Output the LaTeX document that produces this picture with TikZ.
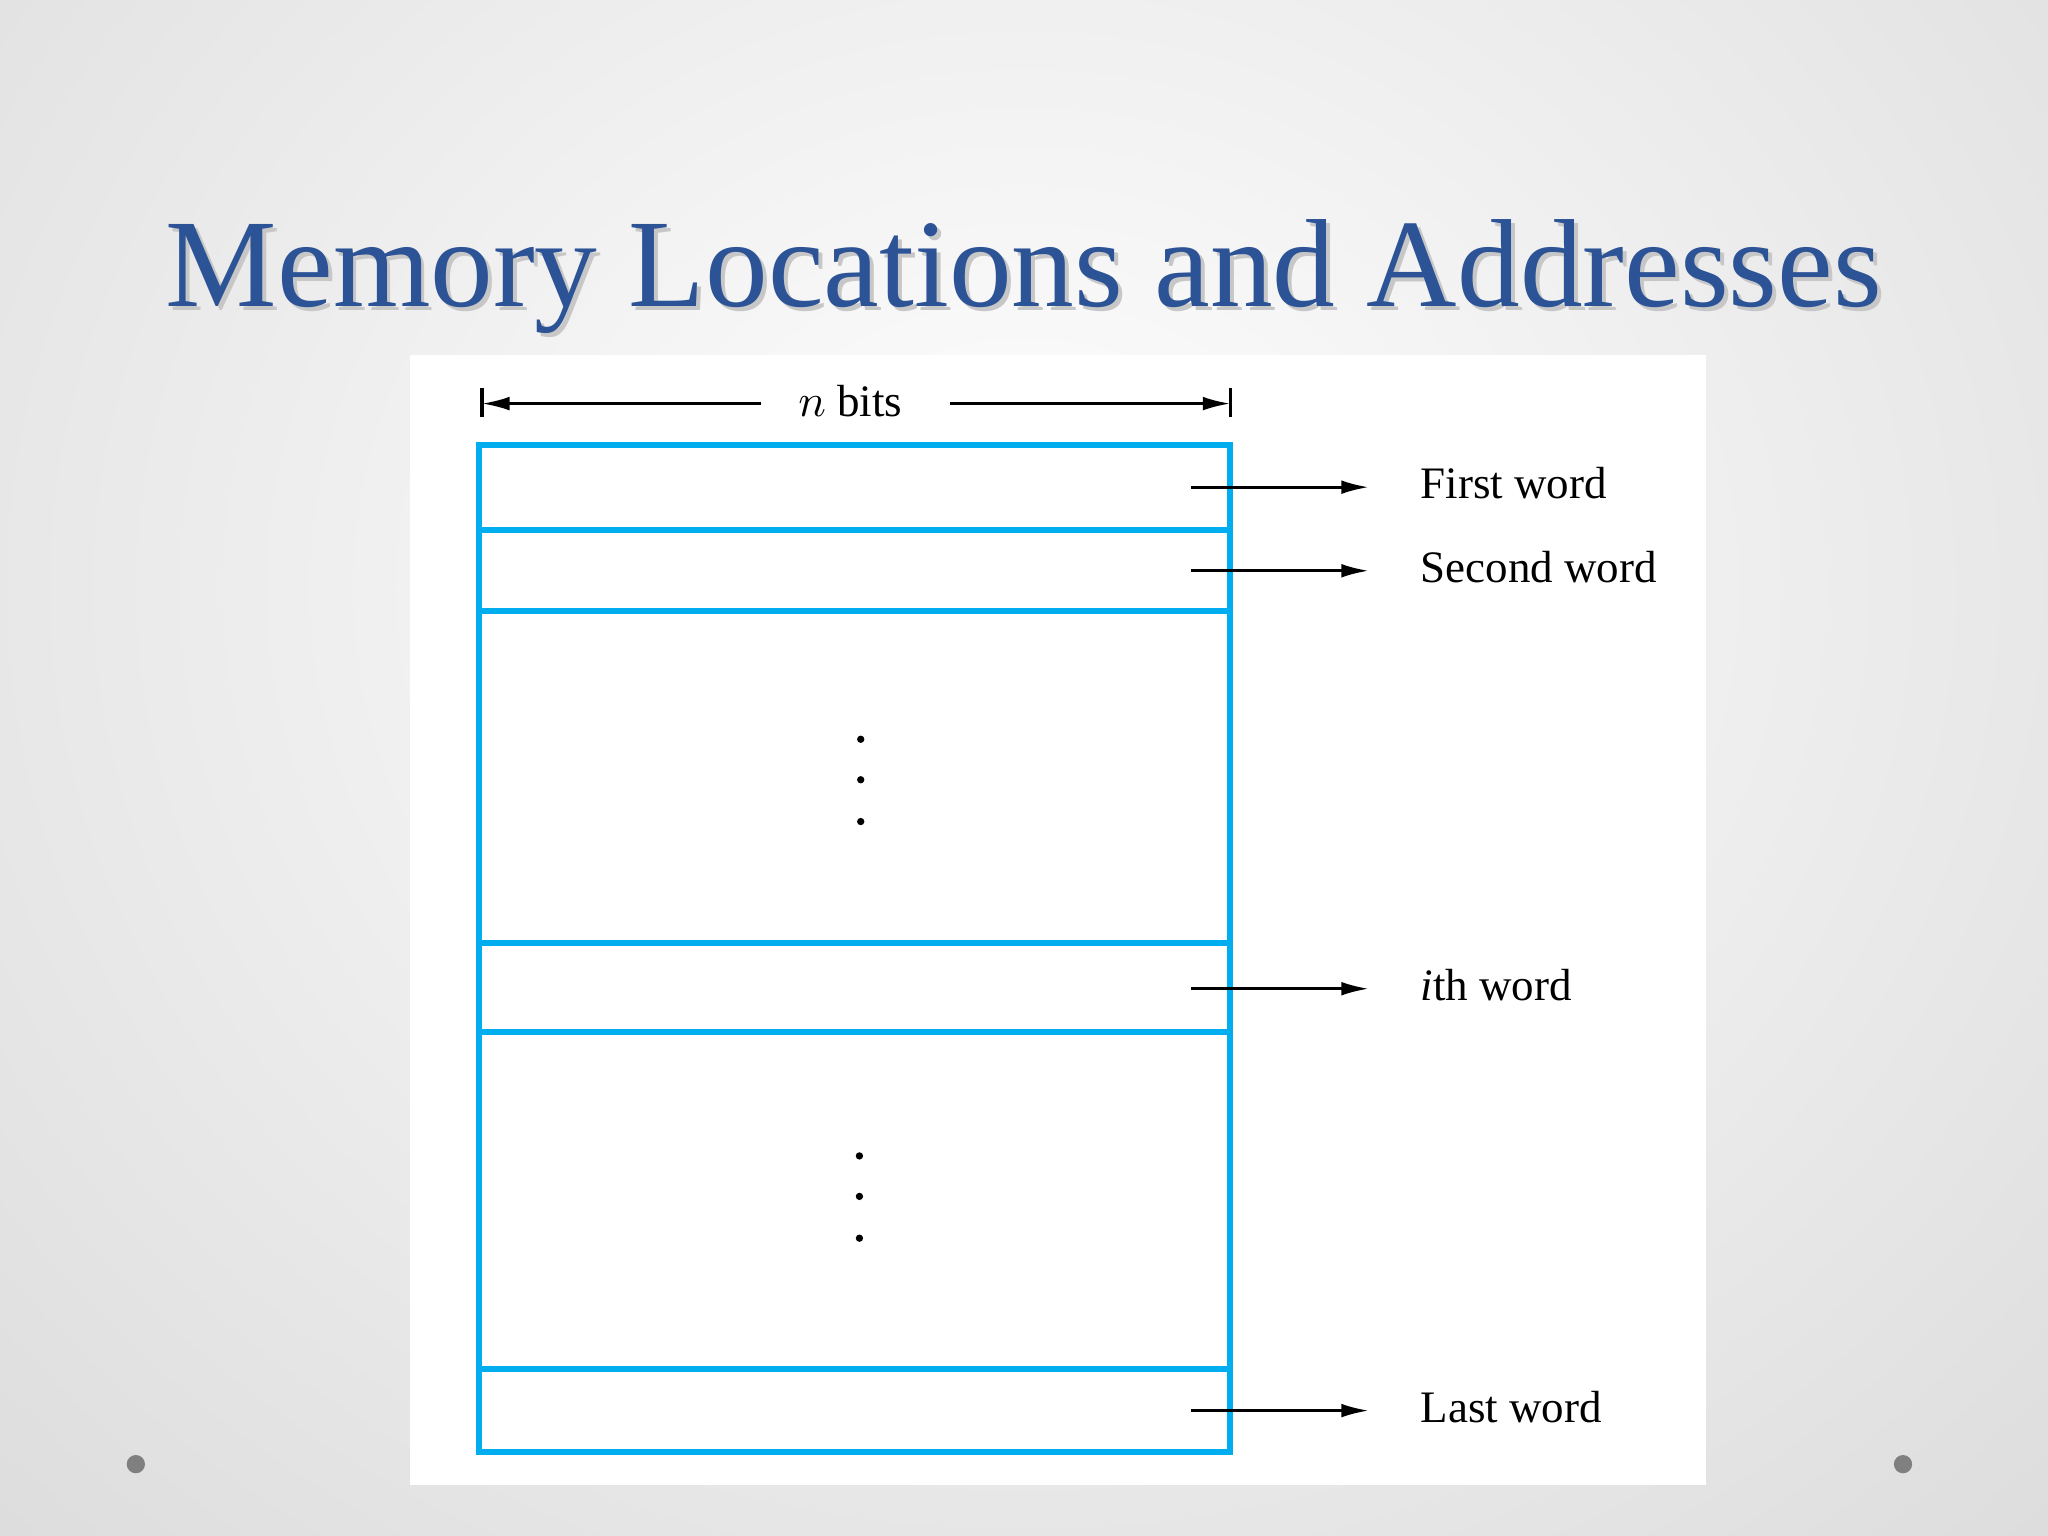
\documentclass[tikz,border=0pt]{standalone}
\usepackage{fontspec}
\setmainfont{Liberation Serif}
\usetikzlibrary{arrows.meta}
\definecolor{titleblue}{RGB}{44,83,150}
\definecolor{memblue}{RGB}{0,174,239}
\tikzset{
  memline/.style={draw=memblue,line width=1.3pt},
  ptr/.style={-{Latex[length=6pt,width=3pt]},line width=0.6pt},
  lbl/.style={anchor=west,font=\fontsize{9.8}{12}\selectfont,inner sep=0pt},
  vdot/.style={circle,fill=black,inner sep=0pt,minimum size=1.6pt}
}
\begin{document}
\begin{tikzpicture}[x=0.01cm,y=-0.01cm]
\useasboundingbox (0,0) rectangle (1568,1176);
\shade[inner color=white,outer color=black!14] (-400,-600) rectangle (1968,1500);
\fill[white] (314,272) rectangle (1306,1137);
\node[text=black!22] at (787,215) {\resizebox{13.13cm}{!}{Memory Locations and Addresses}};
\node[text=titleblue] (title) at (784,212) {\resizebox{13.13cm}{!}{Memory Locations and Addresses}};
% memory block
\draw[memline] (367,341) rectangle (942,1112);
\foreach \y in {406,468,722,790,1048} \draw[memline] (367,\y) -- (942,\y);
\foreach \y in {566,597,629} \node[vdot] at (659,\y) {};
\foreach \y in {885,916,948} \node[vdot] at (658,\y) {};
% n bits
\coordinate (bl) at (369,309); \coordinate (br) at (942,309);
\draw[line width=0.8pt] (369,297) -- (369,319);
\draw[line width=0.8pt] (942,297) -- (942,319);
\node (nb) at (651,307) {\fontsize{9.8}{12}\selectfont $n$ bits};
\draw[ptr] (583,309) -- (bl);
\draw[ptr] (727,309) -- (br);
% pointers
\foreach \y/\t/\n in {373/First word/a,437/Second word/b,757/{\textit{i}th word}/c,1080/Last word/d}{
  \node[lbl] (\n) at (1087,\y-3) {\t};
  \coordinate (s\n) at (912,\y);
  \draw[ptr] (s\n) -- (1048,\y);
}
\fill[black!50] (104,1121) circle (7);
\fill[black!50] (1457,1121) circle (7);
\end{tikzpicture}
\end{document}
